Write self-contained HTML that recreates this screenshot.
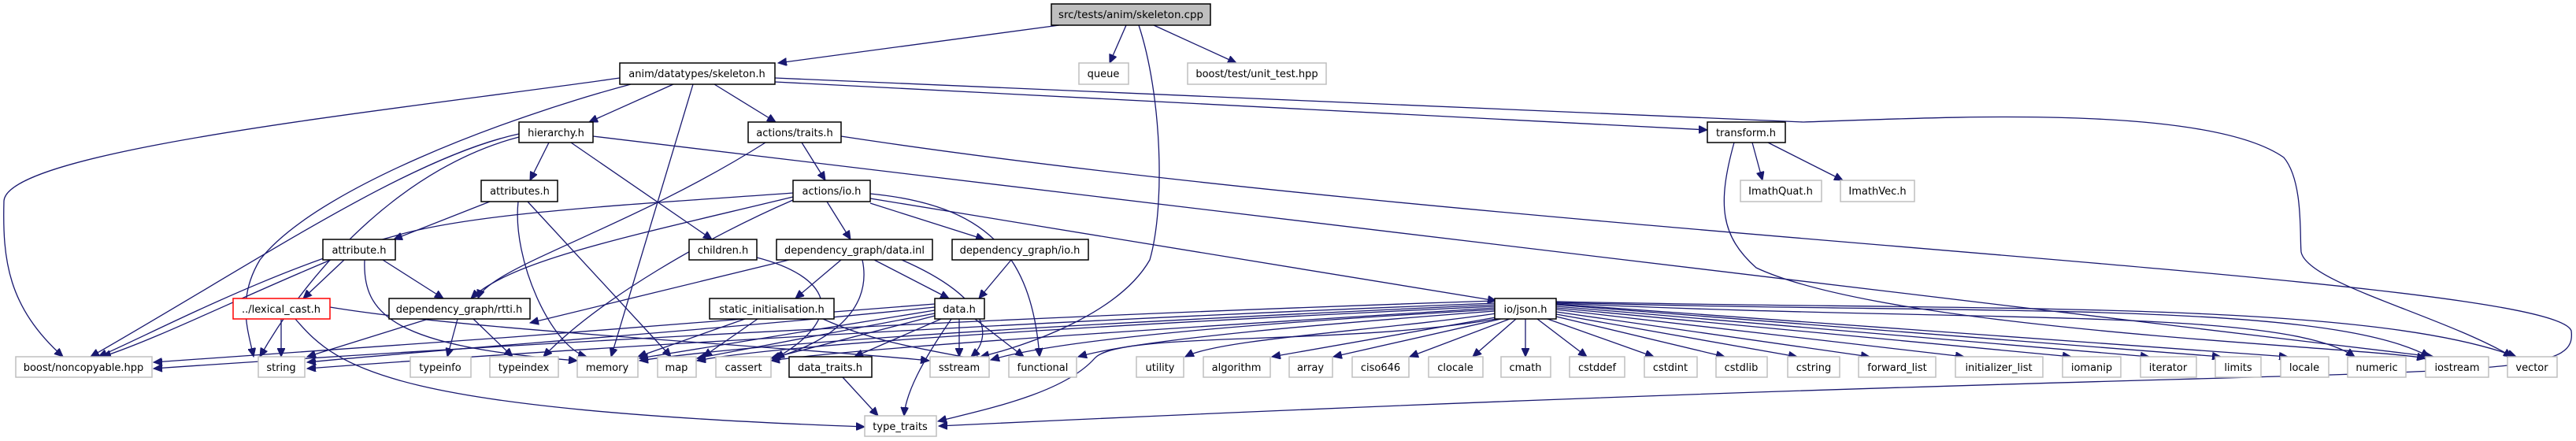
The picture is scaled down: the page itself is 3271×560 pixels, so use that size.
<!DOCTYPE html>
<html><head><meta charset="utf-8"><style>
html,body{margin:0;padding:0;background:#fff;}
svg{display:block;}
text{font-family:"DejaVu Sans","Liberation Sans",sans-serif;font-size:13px;fill:#000;}
.b rect{fill:#fff;stroke:#000;stroke-width:1.5}
.g rect{fill:#fff;stroke:#bfbfbf;stroke-width:1.5}
.e path{fill:none;stroke:#191970;stroke-width:1.3;marker-end:url(#a)}
</style></head><body>
<svg width="3271" height="560" viewBox="0 0 3271 560" xmlns="http://www.w3.org/2000/svg">
<defs><marker id="a" markerUnits="userSpaceOnUse" markerWidth="12" markerHeight="10" refX="11" refY="5" orient="auto"><path d="M0,0 L11,5 L0,10 z" fill="#191970" stroke="#191970"/></marker></defs>
<g class="e">
<path d="M1345,32 L988,80"/>
<path d="M1430,32 L1409,80"/>
<path d="M1465,32 L1570,80"/>
<path d="M1446,32 C1475,120 1480,260 1460,330 C1420,400 1300,440 1245,453"/>
<path d="M855,107 L748,155"/>
<path d="M907,107 L985,155"/>
<path d="M880,107 L776,453"/>
<path d="M801,107 C640,150 400,240 330,330 C300,380 315,420 322,453"/>
<path d="M787,99 C500,140 10,190 5,255 C3,330 10,390 80,453"/>
<path d="M984,104 L2168,165"/>
<path d="M984,99 L2290,155 C2450,150 2800,130 2900,200 C2925,230 2920,300 2922,320 C2930,360 3100,400 3190,453"/>
<path d="M697,181 L673,229"/>
<path d="M725,181 L904,304"/>
<path d="M659,170 C520,200 330,330 115,453"/>
<path d="M659,174 C520,210 400,330 330,453"/>
<path d="M753,173 L3090,453"/>
<path d="M1018,181 L1048,229"/>
<path d="M972,181 C800,290 620,340 607,379"/>
<path d="M1068,173 C1900,300 3240,350 3265,420 C3275,500 3100,450 1192,541"/>
<path d="M2225,181 L2238,229"/>
<path d="M2245,181 L2340,229"/>
<path d="M2202,181 C2180,260 2185,300 2230,340 C2400,420 3000,440 3080,455"/>
<path d="M622,256 L500,304"/>
<path d="M658,256 C650,330 700,440 745,453"/>
<path d="M670,256 L852,453"/>
<path d="M1007,245 C800,260 600,270 500,300 C350,340 200,420 125,453"/>
<path d="M1007,250 C800,300 650,330 598,379"/>
<path d="M1007,254 C900,300 760,380 690,453"/>
<path d="M1050,256 L1080,304"/>
<path d="M1105,258 L1250,304"/>
<path d="M1105,246 C1250,260 1310,320 1320,453"/>
<path d="M1105,252 L1900,382"/>
<path d="M437,330 L385,379"/>
<path d="M486,330 L563,379"/>
<path d="M420,330 C300,380 200,430 130,453"/>
<path d="M463,330 C460,400 500,440 733,458"/>
<path d="M961,327 C1050,350 1080,400 985,455"/>
<path d="M1002,330 L673,410"/>
<path d="M1068,330 L1010,379"/>
<path d="M1110,330 L1205,379"/>
<path d="M1145,330 C1260,380 1260,430 1233,453"/>
<path d="M1095,330 C1110,400 1040,440 980,455"/>
<path d="M1284,330 L1243,379"/>
<path d="M357,405 L357,453"/>
<path d="M375,405 C430,470 500,520 1098,542"/>
<path d="M419,390 C600,420 1000,440 1180,458"/>
<path d="M544,405 L390,453"/>
<path d="M581,405 L568,453"/>
<path d="M601,405 L651,453"/>
<path d="M946,405 L810,453"/>
<path d="M962,405 L893,453"/>
<path d="M1045,405 C1100,430 1150,440 1250,458"/>
<path d="M1187,386 C900,410 500,440 195,460"/>
<path d="M1187,390 C900,420 600,440 390,460"/>
<path d="M1187,394 L812,455"/>
<path d="M1187,398 L885,455"/>
<path d="M1187,401 L979,455"/>
<path d="M1195,405 L1085,453"/>
<path d="M1218,405 L1218,453"/>
<path d="M1238,405 L1300,453"/>
<path d="M1208,405 C1170,460 1150,500 1148,528"/>
<path d="M1070,479 L1115,528"/>
<path d="M1898,382 C1500,395 900,420 195,468"/>
<path d="M1898,385 C1500,400 900,430 390,468"/>
<path d="M1898,387 C1500,405 1000,430 812,458"/>
<path d="M1898,389 C1500,408 1000,435 885,458"/>
<path d="M1898,391 C1600,410 1100,440 979,458"/>
<path d="M1898,393 C1600,410 1350,430 1258,457"/>
<path d="M1898,395 C1700,410 1450,430 1369,453"/>
<path d="M1900,405 C1700,440 1420,420 1390,455 C1350,500 1250,520 1191,535"/>
<path d="M1900,398 C1750,420 1550,430 1505,453"/>
<path d="M1905,402 L1615,453"/>
<path d="M1910,404 L1693,453"/>
<path d="M1917,405 L1790,453"/>
<path d="M1925,405 L1870,453"/>
<path d="M1937,405 L1937,453"/>
<path d="M1952,405 L2015,453"/>
<path d="M1965,405 L2100,453"/>
<path d="M1976,402 L2190,453"/>
<path d="M1976,399 L2282,453"/>
<path d="M1976,396 L2374,453"/>
<path d="M1976,393 L2494,453"/>
<path d="M1976,391 L2630,453"/>
<path d="M1976,389 L2729,453"/>
<path d="M1976,387 L2820,453"/>
<path d="M1976,386 L2905,453"/>
<path d="M1976,385 C2500,410 2900,390 2990,453"/>
<path d="M1976,384 C2500,400 2950,380 3085,453"/>
<path d="M1976,383 C2500,395 3000,380 3195,453"/>
</g>
<g><rect x="1335" y="5" width="202" height="27" fill="#bfbfbf" stroke="#000" stroke-width="1.5"/><text x="1436" y="23" text-anchor="middle" textLength="184" lengthAdjust="spacingAndGlyphs">src/tests/anim/skeleton.cpp</text></g>
<g class="b">
<rect x="787" y="80" width="197" height="27"/><text x="885" y="98" text-anchor="middle">anim/datatypes/skeleton.h</text>
<rect x="659" y="155" width="94" height="26"/><text x="706" y="173" text-anchor="middle">hierarchy.h</text>
<rect x="950" y="155" width="118" height="26"/><text x="1009" y="173" text-anchor="middle">actions/traits.h</text>
<rect x="2168" y="155" width="99" height="26"/><text x="2217" y="173" text-anchor="middle">transform.h</text>
<rect x="611" y="229" width="97" height="27"/><text x="660" y="247" text-anchor="middle">attributes.h</text>
<rect x="1007" y="229" width="98" height="27"/><text x="1056" y="247" text-anchor="middle">actions/io.h</text>
<rect x="410" y="304" width="92" height="26"/><text x="456" y="322" text-anchor="middle">attribute.h</text>
<rect x="875" y="304" width="86" height="26"/><text x="918" y="322" text-anchor="middle">children.h</text>
<rect x="986" y="304" width="198" height="26"/><text x="1085" y="322" text-anchor="middle">dependency_graph/data.inl</text>
<rect x="1209" y="304" width="173" height="26"/><text x="1295" y="322" text-anchor="middle">dependency_graph/io.h</text>
<rect x="494" y="379" width="179" height="26"/><text x="583" y="397" text-anchor="middle">dependency_graph/rtti.h</text>
<rect x="901" y="379" width="158" height="26"/><text x="980" y="397" text-anchor="middle">static_initialisation.h</text>
<rect x="1187" y="379" width="63" height="26"/><text x="1218" y="397" text-anchor="middle">data.h</text>
<rect x="1898" y="379" width="78" height="26"/><text x="1937" y="397" text-anchor="middle">io/json.h</text>
<rect x="1002" y="453" width="105" height="26"/><text x="1054" y="471" text-anchor="middle">data_traits.h</text>
</g>
<g><rect x="296" y="379" width="123" height="26" fill="#fff" stroke="#ff0000" stroke-width="1.5"/><text x="357" y="397" text-anchor="middle">../lexical_cast.h</text></g>
<g class="g">
<rect x="1370" y="80" width="63" height="27"/><text x="1401" y="98" text-anchor="middle">queue</text>
<rect x="1508" y="80" width="176" height="27"/><text x="1596" y="98" text-anchor="middle">boost/test/unit_test.hpp</text>
<rect x="2210" y="229" width="103" height="27"/><text x="2261" y="247" text-anchor="middle">ImathQuat.h</text>
<rect x="2337" y="229" width="94" height="27"/><text x="2384" y="247" text-anchor="middle">ImathVec.h</text>
<rect x="20" y="453" width="173" height="26"/><text x="106" y="471" text-anchor="middle">boost/noncopyable.hpp</text>
<rect x="328" y="453" width="59" height="26"/><text x="357" y="471" text-anchor="middle">string</text>
<rect x="521" y="453" width="77" height="26"/><text x="559" y="471" text-anchor="middle">typeinfo</text>
<rect x="622" y="453" width="87" height="26"/><text x="665" y="471" text-anchor="middle">typeindex</text>
<rect x="733" y="453" width="77" height="26"/><text x="771" y="471" text-anchor="middle">memory</text>
<rect x="835" y="453" width="49" height="26"/><text x="859" y="471" text-anchor="middle">map</text>
<rect x="909" y="453" width="70" height="26"/><text x="944" y="471" text-anchor="middle">cassert</text>
<rect x="1181" y="453" width="75" height="26"/><text x="1218" y="471" text-anchor="middle">sstream</text>
<rect x="1281" y="453" width="86" height="26"/><text x="1324" y="471" text-anchor="middle">functional</text>
<rect x="1443" y="453" width="60" height="26"/><text x="1473" y="471" text-anchor="middle">utility</text>
<rect x="1528" y="453" width="85" height="26"/><text x="1570" y="471" text-anchor="middle">algorithm</text>
<rect x="1637" y="453" width="55" height="26"/><text x="1664" y="471" text-anchor="middle">array</text>
<rect x="1717" y="453" width="72" height="26"/><text x="1753" y="471" text-anchor="middle">ciso646</text>
<rect x="1814" y="453" width="69" height="26"/><text x="1848" y="471" text-anchor="middle">clocale</text>
<rect x="1906" y="453" width="63" height="26"/><text x="1937" y="471" text-anchor="middle">cmath</text>
<rect x="1993" y="453" width="70" height="26"/><text x="2028" y="471" text-anchor="middle">cstddef</text>
<rect x="2088" y="453" width="67" height="26"/><text x="2121" y="471" text-anchor="middle">cstdint</text>
<rect x="2179" y="453" width="65" height="26"/><text x="2211" y="471" text-anchor="middle">cstdlib</text>
<rect x="2270" y="453" width="66" height="26"/><text x="2303" y="471" text-anchor="middle">cstring</text>
<rect x="2360" y="453" width="98" height="26"/><text x="2409" y="471" text-anchor="middle">forward_list</text>
<rect x="2483" y="453" width="111" height="26"/><text x="2538" y="471" text-anchor="middle">initializer_list</text>
<rect x="2619" y="453" width="74" height="26"/><text x="2656" y="471" text-anchor="middle">iomanip</text>
<rect x="2718" y="453" width="71" height="26"/><text x="2753" y="471" text-anchor="middle">iterator</text>
<rect x="2813" y="453" width="58" height="26"/><text x="2842" y="471" text-anchor="middle">limits</text>
<rect x="2896" y="453" width="61" height="26"/><text x="2926" y="471" text-anchor="middle">locale</text>
<rect x="2981" y="453" width="74" height="26"/><text x="3018" y="471" text-anchor="middle">numeric</text>
<rect x="3080" y="453" width="80" height="26"/><text x="3120" y="471" text-anchor="middle">iostream</text>
<rect x="3184" y="453" width="63" height="26"/><text x="3215" y="471" text-anchor="middle">vector</text>
<rect x="1098" y="528" width="91" height="26"/><text x="1143" y="546" text-anchor="middle">type_traits</text>
</g>
</svg>
</body></html>
